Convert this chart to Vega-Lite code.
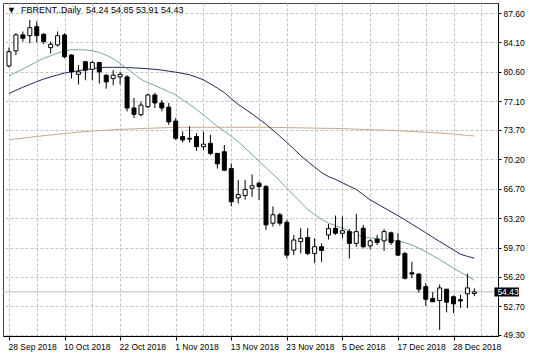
{
  "$schema": "https://vega.github.io/schema/vega-lite/v6.json",
  "width": 495,
  "height": 333,
  "autosize": {"type": "none"},
  "padding": {"left": 3, "top": 3, "right": 38, "bottom": 22},
  "background": "white",
  "config": {
    "view": {"stroke": "#444444", "strokeWidth": 1},
    "font": "Liberation Sans",
    "axis": {"labelOverlap": false, "labelBound": false, "labelFlush": false},
    "axisY": {"labelOverlap": false}
  },
  "title": {
    "text": "▼\u00a0\u00a0FBRENT..Daily\u00a0\u00a054.24 54.85 53.91 54.43",
    "anchor": "start",
    "frame": "group",
    "orient": "top",
    "offset": -19,
    "dx": 4,
    "baseline": "alphabetic",
    "fontSize": 9,
    "fontWeight": "normal",
    "font": "Liberation Sans",
    "color": "#000000"
  },
  "data": {
    "values": [
      {"i":0,"d":"2018-09-28","o":81.3,"h":83.5,"l":81.1,"c":83.0,"m1":80.10,"m2":78.03,"m3":72.51},
      {"i":1,"d":"2018-10-01","o":83.1,"h":85.2,"l":82.6,"c":85.0,"m1":80.53,"m2":78.40,"m3":72.62},
      {"i":2,"d":"2018-10-02","o":85.0,"h":85.4,"l":84.2,"c":84.6,"m1":80.95,"m2":78.77,"m3":72.71},
      {"i":3,"d":"2018-10-03","o":84.9,"h":86.77,"l":84.0,"c":85.85,"m1":81.37,"m2":79.10,"m3":72.81},
      {"i":4,"d":"2018-10-04","o":85.97,"h":86.6,"l":84.1,"c":84.9,"m1":81.79,"m2":79.43,"m3":72.91},
      {"i":5,"d":"2018-10-05","o":85.07,"h":85.2,"l":83.9,"c":84.2,"m1":82.22,"m2":79.75,"m3":73.01},
      {"i":6,"d":"2018-10-08","o":83.48,"h":84.2,"l":82.8,"c":83.88,"m1":82.52,"m2":79.99,"m3":73.09},
      {"i":7,"d":"2018-10-09","o":83.8,"h":85.4,"l":83.6,"c":84.9,"m1":82.83,"m2":80.23,"m3":73.17},
      {"i":8,"d":"2018-10-10","o":84.99,"h":85.2,"l":82.2,"c":82.4,"m1":83.11,"m2":80.46,"m3":73.26},
      {"i":9,"d":"2018-10-11","o":82.6,"h":82.7,"l":79.8,"c":80.6,"m1":83.24,"m2":80.60,"m3":73.34},
      {"i":10,"d":"2018-10-12","o":80.3,"h":81.4,"l":79.1,"c":80.6,"m1":83.23,"m2":80.73,"m3":73.43},
      {"i":11,"d":"2018-10-15","o":81.8,"h":81.9,"l":79.6,"c":80.8,"m1":83.21,"m2":80.86,"m3":73.50},
      {"i":12,"d":"2018-10-16","o":80.9,"h":81.9,"l":79.6,"c":81.7,"m1":83.12,"m2":80.98,"m3":73.56},
      {"i":13,"d":"2018-10-17","o":81.7,"h":81.8,"l":79.2,"c":80.6,"m1":82.91,"m2":81.09,"m3":73.60},
      {"i":14,"d":"2018-10-18","o":80.2,"h":80.3,"l":78.6,"c":79.4,"m1":82.58,"m2":81.14,"m3":73.65},
      {"i":15,"d":"2018-10-19","o":79.8,"h":80.8,"l":79.0,"c":80.2,"m1":82.16,"m2":81.14,"m3":73.71},
      {"i":16,"d":"2018-10-22","o":80.0,"h":80.6,"l":79.1,"c":80.3,"m1":81.61,"m2":81.14,"m3":73.76},
      {"i":17,"d":"2018-10-23","o":80.0,"h":80.2,"l":75.9,"c":76.3,"m1":80.98,"m2":81.11,"m3":73.79},
      {"i":18,"d":"2018-10-24","o":76.3,"h":77.5,"l":75.1,"c":75.55,"m1":80.34,"m2":81.07,"m3":73.82},
      {"i":19,"d":"2018-10-25","o":75.5,"h":77.05,"l":75.3,"c":76.65,"m1":79.71,"m2":81.03,"m3":73.85},
      {"i":20,"d":"2018-10-26","o":76.45,"h":78.0,"l":76.3,"c":77.85,"m1":79.32,"m2":80.97,"m3":73.89},
      {"i":21,"d":"2018-10-29","o":77.85,"h":78.1,"l":76.3,"c":76.9,"m1":78.97,"m2":80.90,"m3":73.91},
      {"i":22,"d":"2018-10-30","o":76.9,"h":77.25,"l":75.9,"c":76.3,"m1":78.61,"m2":80.81,"m3":73.95},
      {"i":23,"d":"2018-10-31","o":76.4,"h":76.9,"l":74.3,"c":74.65,"m1":78.25,"m2":80.69,"m3":73.97},
      {"i":24,"d":"2018-11-01","o":74.75,"h":75.1,"l":72.5,"c":72.7,"m1":77.85,"m2":80.56,"m3":74.01},
      {"i":25,"d":"2018-11-02","o":72.9,"h":73.5,"l":72.2,"c":72.5,"m1":77.28,"m2":80.41,"m3":74.01},
      {"i":26,"d":"2018-11-05","o":72.7,"h":74.1,"l":72.2,"c":72.6,"m1":76.70,"m2":80.25,"m3":74.01},
      {"i":27,"d":"2018-11-06","o":72.9,"h":73.3,"l":71.2,"c":71.7,"m1":76.12,"m2":79.97,"m3":74.01},
      {"i":28,"d":"2018-11-07","o":71.7,"h":73.5,"l":71.3,"c":72.0,"m1":75.47,"m2":79.65,"m3":74.01},
      {"i":29,"d":"2018-11-08","o":72.1,"h":73.1,"l":70.7,"c":70.9,"m1":74.79,"m2":79.17,"m3":74.01},
      {"i":30,"d":"2018-11-09","o":70.9,"h":70.95,"l":69.1,"c":69.65,"m1":74.12,"m2":78.67,"m3":74.01},
      {"i":31,"d":"2018-11-12","o":71.1,"h":71.9,"l":68.8,"c":68.9,"m1":73.53,"m2":78.14,"m3":74.01},
      {"i":32,"d":"2018-11-13","o":69.1,"h":69.7,"l":64.6,"c":65.15,"m1":72.94,"m2":77.41,"m3":74.01},
      {"i":33,"d":"2018-11-14","o":65.6,"h":67.75,"l":64.95,"c":66.0,"m1":72.31,"m2":76.72,"m3":74.01},
      {"i":34,"d":"2018-11-15","o":65.9,"h":67.75,"l":65.4,"c":66.6,"m1":71.53,"m2":76.17,"m3":74.01},
      {"i":35,"d":"2018-11-16","o":66.75,"h":68.4,"l":65.75,"c":67.05,"m1":70.76,"m2":75.59,"m3":74.01},
      {"i":36,"d":"2018-11-19","o":67.35,"h":67.55,"l":65.35,"c":66.95,"m1":69.99,"m2":74.98,"m3":74.01},
      {"i":37,"d":"2018-11-20","o":66.95,"h":67.15,"l":61.8,"c":62.4,"m1":69.21,"m2":74.36,"m3":74.01},
      {"i":38,"d":"2018-11-21","o":62.6,"h":64.6,"l":62.2,"c":63.6,"m1":68.44,"m2":73.67,"m3":73.99},
      {"i":39,"d":"2018-11-22","o":63.6,"h":63.8,"l":62.3,"c":62.6,"m1":67.62,"m2":72.95,"m3":73.98},
      {"i":40,"d":"2018-11-23","o":62.7,"h":62.98,"l":58.4,"c":58.8,"m1":66.78,"m2":72.21,"m3":73.96},
      {"i":41,"d":"2018-11-26","o":59.4,"h":61.2,"l":58.8,"c":60.6,"m1":65.93,"m2":71.43,"m3":73.95},
      {"i":42,"d":"2018-11-27","o":60.4,"h":62.0,"l":59.0,"c":60.8,"m1":65.09,"m2":70.63,"m3":73.94},
      {"i":43,"d":"2018-11-28","o":60.9,"h":62.0,"l":58.8,"c":59.0,"m1":64.24,"m2":69.94,"m3":73.92},
      {"i":44,"d":"2018-11-29","o":59.0,"h":60.8,"l":57.85,"c":59.8,"m1":63.63,"m2":69.28,"m3":73.91},
      {"i":45,"d":"2018-11-30","o":59.8,"h":60.2,"l":58.0,"c":59.35,"m1":63.04,"m2":68.62,"m3":73.89},
      {"i":46,"d":"2018-12-03","o":61.2,"h":62.5,"l":60.65,"c":61.95,"m1":62.61,"m2":68.14,"m3":73.88},
      {"i":47,"d":"2018-12-04","o":62.0,"h":63.5,"l":61.2,"c":61.4,"m1":62.32,"m2":67.80,"m3":73.87},
      {"i":48,"d":"2018-12-05","o":61.4,"h":63.4,"l":60.8,"c":61.7,"m1":62.02,"m2":67.41,"m3":73.84},
      {"i":49,"d":"2018-12-06","o":61.6,"h":61.9,"l":58.4,"c":60.2,"m1":61.66,"m2":67.00,"m3":73.82},
      {"i":50,"d":"2018-12-07","o":60.2,"h":63.7,"l":59.8,"c":61.6,"m1":61.29,"m2":66.61,"m3":73.78},
      {"i":51,"d":"2018-12-10","o":62.0,"h":62.4,"l":59.6,"c":59.8,"m1":60.98,"m2":66.00,"m3":73.76},
      {"i":52,"d":"2018-12-11","o":59.9,"h":60.7,"l":59.5,"c":60.5,"m1":60.86,"m2":65.37,"m3":73.72},
      {"i":53,"d":"2018-12-12","o":60.7,"h":61.2,"l":60.0,"c":60.3,"m1":60.76,"m2":64.90,"m3":73.69},
      {"i":54,"d":"2018-12-13","o":60.5,"h":61.9,"l":59.3,"c":61.6,"m1":60.66,"m2":64.43,"m3":73.66},
      {"i":55,"d":"2018-12-14","o":61.45,"h":61.6,"l":60.0,"c":60.3,"m1":60.57,"m2":63.96,"m3":73.63},
      {"i":56,"d":"2018-12-17","o":60.5,"h":61.4,"l":58.7,"c":58.8,"m1":60.48,"m2":63.49,"m3":73.59},
      {"i":57,"d":"2018-12-18","o":59.0,"h":59.2,"l":55.9,"c":56.05,"m1":60.29,"m2":63.00,"m3":73.56},
      {"i":58,"d":"2018-12-19","o":56.7,"h":58.0,"l":56.05,"c":56.55,"m1":60.00,"m2":62.48,"m3":73.51},
      {"i":59,"d":"2018-12-20","o":56.55,"h":56.65,"l":54.35,"c":54.75,"m1":59.62,"m2":61.98,"m3":73.47},
      {"i":60,"d":"2018-12-21","o":55.05,"h":55.45,"l":52.75,"c":53.55,"m1":59.20,"m2":61.46,"m3":73.42},
      {"i":61,"d":"2018-12-24","o":53.65,"h":54.4,"l":53.25,"c":53.25,"m1":58.73,"m2":60.94,"m3":73.38},
      {"i":62,"d":"2018-12-26","o":53.4,"h":55.3,"l":49.9,"c":54.9,"m1":58.26,"m2":60.42,"m3":73.33},
      {"i":63,"d":"2018-12-27","o":54.75,"h":54.75,"l":52.0,"c":53.2,"m1":57.76,"m2":59.92,"m3":73.26},
      {"i":64,"d":"2018-12-28","o":53.85,"h":54.0,"l":51.9,"c":53.0,"m1":57.24,"m2":59.41,"m3":73.19},
      {"i":65,"d":"2018-12-31","o":53.5,"h":54.1,"l":52.5,"c":53.35,"m1":56.76,"m2":58.91,"m3":73.12},
      {"i":66,"d":"2019-01-02","o":54.2,"h":56.6,"l":52.5,"c":54.9,"m1":56.30,"m2":58.65,"m3":73.04},
      {"i":67,"d":"2019-01-03","o":54.24,"h":54.85,"l":53.91,"c":54.43,"m1":55.81,"m2":58.44,"m3":72.97}
    ]
  },
  "encoding": {
    "x": {
      "field": "i",
      "type": "quantitative",
      "title": null,
      "scale": {"domain": [-0.141, 69.68], "nice": false, "zero": false},
      "axis": {
        "values": [0,4,8,12,16,20,24,28,32,36,40,44,48,52,56,60,64,68],
        "grid": true,
        "gridDash": [3, 2],
        "gridColor": "#c4c4c4",
        "gridWidth": 1,
        "domainColor": "#000000",
        "domainWidth": 1,
        "tickColor": "#000000",
        "tickSize": 4,
        "tickOpacity": {"condition": {"test": "datum.value % 8 === 0", "value": 1}, "value": 0},
        "labelExpr": "datum.value % 8 === 0 ? ['28 Sep 2018','10 Oct 2018','22 Oct 2018','1 Nov 2018','13 Nov 2018','23 Nov 2018','5 Dec 2018','17 Dec 2018','28 Dec 2018'][datum.value / 8] : ''",
        "labelAlign": "left",
        "labelBaseline": "top",
        "labelPadding": 2,
        "labelOffset": -1,
        "labelFont": "Liberation Sans",
        "labelFontSize": 8.5,
        "labelColor": "#000000",
        "labelOverlap": false,
        "labelBound": false,
        "labelFlush": false,
        "title": null
      }
    }
  },
  "layer": [
    {
      "transform": [{"filter": "datum.i == 67"}],
      "mark": {"type": "rule", "color": "#bdbdbd", "strokeWidth": 1},
      "encoding": {
        "x": null,
        "y": {
          "field": "c",
          "type": "quantitative",
          "title": null,
          "scale": {"domain": [49.18, 88.79], "nice": false, "zero": false},
          "axis": {
            "orient": "right",
            "values": [49.3, 52.7, 56.2, 59.7, 63.2, 66.7, 70.2, 73.7, 77.1, 80.6, 84.1, 87.6],
            "format": ".2f",
            "grid": true,
            "gridDash": [3, 2],
            "gridColor": "#c4c4c4",
            "gridWidth": 1,
            "domainColor": "#000000",
            "domainWidth": 1,
            "tickColor": "#000000",
            "tickSize": 3,
            "labelPadding": 2,
            "labelFont": "Liberation Sans",
            "labelFontSize": 8.5,
            "labelColor": "#000000",
            "labelOverlap": false,
            "labelBound": false,
            "labelFlush": false,
            "labelSeparation": 0,
            "title": null
          }
        }
      }
    },
    {
      "mark": {"type": "line", "color": "#c9a886", "strokeWidth": 1},
      "encoding": {"y": {"field": "m3", "type": "quantitative", "title": null, "axis": {"orient": "right", "values": [49.3, 52.7, 56.2, 59.7, 63.2, 66.7, 70.2, 73.7, 77.1, 80.6, 84.1, 87.6], "format": ".2f", "labelOverlap": false, "title": null}}}
    },
    {
      "mark": {"type": "line", "color": "#23235e", "strokeWidth": 1},
      "encoding": {"y": {"field": "m2", "type": "quantitative", "title": null, "axis": {"orient": "right", "values": [49.3, 52.7, 56.2, 59.7, 63.2, 66.7, 70.2, 73.7, 77.1, 80.6, 84.1, 87.6], "format": ".2f", "labelOverlap": false, "title": null}}}
    },
    {
      "mark": {"type": "line", "color": "#74a99b", "strokeWidth": 1},
      "encoding": {"y": {"field": "m1", "type": "quantitative", "title": null, "axis": {"orient": "right", "values": [49.3, 52.7, 56.2, 59.7, 63.2, 66.7, 70.2, 73.7, 77.1, 80.6, 84.1, 87.6], "format": ".2f", "labelOverlap": false, "title": null}}}
    },
    {
      "mark": {"type": "rule", "color": "#000000", "strokeWidth": 1},
      "encoding": {
        "y": {"field": "l", "type": "quantitative", "title": null, "axis": {"orient": "right", "values": [49.3, 52.7, 56.2, 59.7, 63.2, 66.7, 70.2, 73.7, 77.1, 80.6, 84.1, 87.6], "format": ".2f", "labelOverlap": false, "title": null}},
        "y2": {"field": "h"}
      }
    },
    {
      "mark": {"type": "bar", "width": 4, "stroke": "#000000", "strokeWidth": 1},
      "encoding": {
        "y": {"field": "o", "type": "quantitative", "title": null, "axis": {"orient": "right", "values": [49.3, 52.7, 56.2, 59.7, 63.2, 66.7, 70.2, 73.7, 77.1, 80.6, 84.1, 87.6], "format": ".2f", "labelOverlap": false, "title": null}},
        "y2": {"field": "c"},
        "fill": {"condition": {"test": "datum.c >= datum.o", "value": "#ffffff"}, "value": "#000000"}
      }
    },
    {
      "transform": [{"filter": "datum.i == 67"}],
      "mark": {"type": "rect", "color": "#000000", "clip": false},
      "encoding": {
        "x": {"datum": 69.89},
        "x2": {"datum": 73.41},
        "y": {"datum": 53.88, "type": "quantitative", "title": null, "axis": {"orient": "right", "values": [49.3, 52.7, 56.2, 59.7, 63.2, 66.7, 70.2, 73.7, 77.1, 80.6, 84.1, 87.6], "format": ".2f", "labelOverlap": false, "title": null}},
        "y2": {"datum": 54.95}
      }
    },
    {
      "transform": [{"filter": "datum.i == 67"}],
      "mark": {"type": "text", "color": "#ffffff", "align": "left", "baseline": "middle", "font": "Liberation Sans", "fontSize": 8.5, "clip": false},
      "encoding": {
        "x": {"datum": 70.31},
        "y": {"field": "c", "type": "quantitative", "title": null, "axis": {"orient": "right", "values": [49.3, 52.7, 56.2, 59.7, 63.2, 66.7, 70.2, 73.7, 77.1, 80.6, 84.1, 87.6], "format": ".2f", "labelOverlap": false, "title": null}},
        "text": {"field": "c", "type": "quantitative", "format": ".2f"}
      }
    }
  ]
}
